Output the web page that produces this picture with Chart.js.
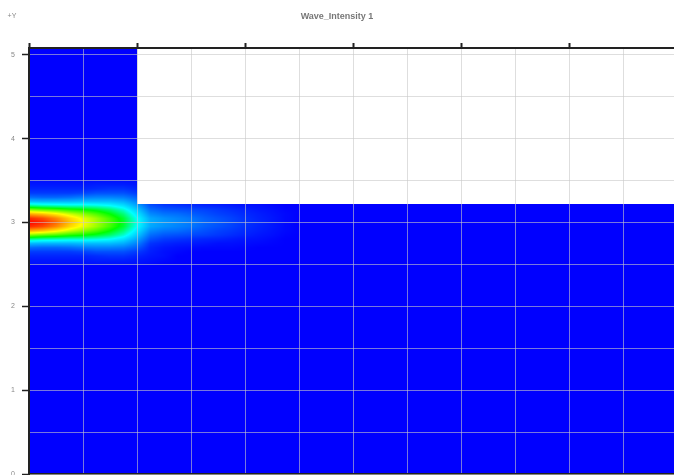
<!DOCTYPE html>
<html>
<head>
<meta charset="utf-8">
<title>Wave_Intensity 1</title>
<script src="https://cdn.jsdelivr.net/npm/chart.js@4.4.1/dist/chart.umd.min.js"></script>
<style>
  html, body { margin: 0; padding: 0; background: #fff; }
  canvas { display: block; }
</style>
</head>
<body>
<canvas id="wave-chart" width="674" height="475"></canvas>
<script>
// Axis ranges
var xRange = [0, 5.97];
var yRange = [0, 5.08];

// Upper outline of the simulation domain (filled down to y = 0)
var domainX = [0, 1, 1, 5.97];
var domainY = [5.08, 5.08, 3.22, 3.22];

// Intensity samples around the beam (columns = beamX, rows = beamY)
var beamX = [0, 0.125, 0.25, 0.375, 0.5, 0.625, 0.75, 0.875, 1, 1.125, 1.25,
  1.375, 1.5, 1.625, 1.75, 1.875, 2, 2.125, 2.25, 2.375, 2.5];
var beamY = [3.5, 3.45, 3.4, 3.35, 3.3, 3.25, 3.2, 3.15, 3.1, 3.05, 3,
  2.95, 2.9, 2.85, 2.8, 2.75, 2.7, 2.65, 2.6, 2.55, 2.5];
var intensity = [
  [.02, .02, .02, .02, .02, .02, .02, .02, .02, 0, 0, 0, 0, 0, 0, 0, 0, 0, 0, 0, 0],
  [.03, .03, .03, .03, .03, .04, .04, .04, .03, .01, 0, 0, 0, 0, 0, 0, 0, 0, 0, 0, 0],
  [.05, .05, .05, .05, .05, .06, .07, .07, .05, .02, 0, 0, 0, 0, 0, 0, 0, 0, 0, 0, 0],
  [.08, .08, .08, .08, .09, .11, .11, .11, .08, .03, .01, .01, 0, 0, 0, 0, 0, 0, 0, 0, 0],
  [.15, .14, .14, .15, .17, .18, .18, .17, .13, .04, .02, .02, .015, .01, .01, .01, .005, 0, 0, 0, 0],
  [.26, .25, .25, .25, .26, .26, .26, .24, .18, .07, .05, .04, .035, .03, .02, .02, .015, .01, .005, 0, 0],
  [.42, .40, .39, .38, .38, .37, .35, .31, .23, .11, .08, .07, .06, .05, .045, .035, .025, .02, .01, 0, 0],
  [.61, .58, .56, .53, .51, .48, .44, .38, .28, .15, .12, .11, .10, .09, .075, .06, .045, .03, .02, .005, 0],
  [.80, .77, .72, .66, .61, .56, .50, .43, .32, .19, .16, .15, .13, .11, .09, .075, .055, .04, .025, .01, 0],
  [.95, .91, .84, .75, .68, .62, .55, .47, .35, .23, .20, .18, .16, .13, .11, .09, .065, .045, .03, .01, 0],
  [1.0, .96, .88, .78, .70, .63, .56, .48, .36, .24, .21, .19, .17, .14, .12, .095, .07, .05, .03, .01, 0],
  [.95, .91, .84, .75, .68, .62, .55, .47, .35, .23, .20, .18, .16, .13, .11, .09, .065, .045, .03, .01, 0],
  [.80, .77, .72, .66, .61, .56, .50, .43, .32, .19, .16, .15, .13, .11, .09, .075, .055, .04, .025, .01, 0],
  [.61, .58, .56, .53, .51, .48, .44, .38, .28, .15, .12, .11, .10, .09, .075, .06, .045, .03, .02, .005, 0],
  [.42, .40, .39, .38, .38, .37, .35, .31, .23, .11, .08, .07, .06, .05, .045, .035, .025, .02, .01, 0, 0],
  [.26, .25, .25, .25, .26, .26, .26, .24, .18, .07, .05, .04, .035, .03, .02, .02, .015, .01, .005, 0, 0],
  [.15, .14, .14, .15, .17, .18, .18, .17, .13, .05, .03, .02, .015, .01, .01, .01, .005, 0, 0, 0, 0],
  [.08, .08, .08, .08, .09, .11, .11, .11, .08, .04, .02, .01, 0, 0, 0, 0, 0, 0, 0, 0, 0],
  [.05, .05, .05, .05, .05, .06, .07, .07, .05, .03, .02, 0, 0, 0, 0, 0, 0, 0, 0, 0, 0],
  [.03, .03, .03, .03, .03, .04, .04, .04, .03, .02, .01, 0, 0, 0, 0, 0, 0, 0, 0, 0, 0],
  [.02, .02, .02, .02, .02, .02, .02, .02, .02, .01, 0, 0, 0, 0, 0, 0, 0, 0, 0, 0, 0]
];

// Jet-like colour stops (value, r, g, b)
var colorStops = [
  [0, 0, 0, 255],
  [0.35, 0, 255, 255],
  [0.5, 0, 255, 0],
  [0.7, 255, 255, 0],
  [1, 255, 0, 0]
];

var FONT = '"Liberation Sans", Arial, sans-serif';
var GRID = "rgba(200, 200, 200, 0.6)";
var AXIS = "#222";

function jet(v) {
  v = Math.max(0, Math.min(1, v));
  for (var i = 1; i < colorStops.length; i++) {
    var a = colorStops[i - 1], b = colorStops[i];
    if (v <= b[0]) {
      var t = (v - a[0]) / (b[0] - a[0]);
      return [a[1] + (b[1] - a[1]) * t, a[2] + (b[2] - a[2]) * t, a[3] + (b[3] - a[3]) * t];
    }
  }
  return colorStops[colorStops.length - 1].slice(1);
}

// Fractional index of v inside a monotonic array (clamped)
function locate(arr, v) {
  var n = arr.length, asc = arr[n - 1] > arr[0];
  for (var i = 0; i < n - 1; i++) {
    var a = arr[i], b = arr[i + 1];
    if (asc ? v <= b : v >= b) {
      var t = (v - a) / (b - a);
      return i + Math.max(0, Math.min(1, t));
    }
  }
  return n - 1;
}

// Value of the intensity grid at a data position
function sampleAt(xv, yv) {
  var fx = locate(beamX, xv), fy = locate(beamY, yv);
  var i0 = Math.floor(fx), j0 = Math.floor(fy);
  var i1 = Math.min(i0 + 1, beamX.length - 1), j1 = Math.min(j0 + 1, beamY.length - 1);
  var tx = fx - i0, ty = fy - j0;
  var top = intensity[j0][i0] * (1 - tx) + intensity[j0][i1] * tx;
  var bot = intensity[j1][i0] * (1 - tx) + intensity[j1][i1] * tx;
  return top * (1 - ty) + bot * ty;
}

function isWhole(v) {
  return Math.abs(v - Math.round(v)) < 1e-6;
}

function tickMarkColor(ctx) {
  return ctx.tick && isWhole(ctx.tick.value) ? AXIS : "rgba(0,0,0,0)";
}

// Domain outline as a path through the scales
function domainPath(c, xs, ys) {
  c.beginPath();
  c.moveTo(xs.getPixelForValue(domainX[0]), ys.getPixelForValue(yRange[0]));
  for (var i = 0; i < domainX.length; i++) {
    c.lineTo(xs.getPixelForValue(domainX[i]), ys.getPixelForValue(domainY[i]));
  }
  c.lineTo(xs.getPixelForValue(domainX[domainX.length - 1]), ys.getPixelForValue(yRange[0]));
  c.closePath();
}

// Draws the intensity field, clipped to the domain
var heatmapPlugin = {
  id: "heatmap",
  afterDatasetsDraw: function (chart) {
    var xs = chart.scales.x, ys = chart.scales.y, c = chart.ctx;
    var left = Math.floor(xs.getPixelForValue(beamX[0]));
    var right = Math.ceil(xs.getPixelForValue(beamX[beamX.length - 1]));
    var top = Math.floor(ys.getPixelForValue(beamY[0]));
    var bottom = Math.ceil(ys.getPixelForValue(beamY[beamY.length - 1]));
    var w = right - left, h = bottom - top;

    var img = document.createElement("canvas");
    img.width = w;
    img.height = h;
    var ictx = img.getContext("2d");
    var pix = ictx.createImageData(w, h);
    for (var py = 0; py < h; py++) {
      var yv = ys.getValueForPixel(top + py + 0.5);
      for (var px = 0; px < w; px++) {
        var xv = xs.getValueForPixel(left + px + 0.5);
        var col = jet(sampleAt(xv, yv));
        var k = (py * w + px) * 4;
        pix.data[k] = col[0];
        pix.data[k + 1] = col[1];
        pix.data[k + 2] = col[2];
        pix.data[k + 3] = 255;
      }
    }
    ictx.putImageData(pix, 0, 0);

    c.save();
    domainPath(c, xs, ys);
    c.clip();
    c.drawImage(img, left, top);
    c.restore();
  },
  afterDraw: function (chart) {
    // "+Y" axis caption, top left
    var c = chart.ctx;
    c.save();
    c.font = "7px " + FONT;
    c.fillStyle = "#888";
    c.textAlign = "center";
    c.textBaseline = "middle";
    c.fillText("+Y", chart.scales.y.left + 12, 16);
    c.restore();
  }
};

var ctx = document.getElementById("wave-chart").getContext("2d");
new Chart(ctx, {
  type: "line",
  data: {
    datasets: [
      {
        label: "domain",
        data: domainX.map(function (x, i) { return { x: x, y: domainY[i] }; }),
        backgroundColor: "#0000ff",
        borderColor: "rgba(0,0,0,0)",
        borderWidth: 0,
        pointRadius: 0,
        tension: 0,
        fill: "origin"
      }
    ]
  },
  options: {
    responsive: false,
    animation: false,
    layout: { padding: 0 },
    plugins: {
      legend: { display: false },
      tooltip: { enabled: false },
      title: {
        display: true,
        text: "Wave_Intensity 1",
        color: "#777",
        font: { family: FONT, size: 9, weight: "bold", lineHeight: 1.2 },
        padding: { top: 11, bottom: 0 }
      }
    },
    scales: {
      x: {
        type: "linear",
        position: "top",
        min: xRange[0],
        max: xRange[1],
        ticks: { stepSize: 0.5, includeBounds: false, display: false },
        grid: { color: GRID, lineWidth: 1, tickLength: 5, tickWidth: 2, tickColor: tickMarkColor, z: 1 },
        border: { color: AXIS, width: 2, z: 1 },
        afterFit: function (s) {
          s.height = 48 - 21.8;
          s.paddingLeft = 0;
          s.paddingRight = 0;
        }
      },
      xb: {
        type: "linear",
        position: "bottom",
        min: xRange[0],
        max: xRange[1],
        ticks: { display: false },
        grid: { display: false },
        border: { color: AXIS, width: 2, z: 1 },
        afterFit: function (s) {
          s.height = 1;
          s.paddingLeft = 0;
          s.paddingRight = 0;
        }
      },
      y: {
        type: "linear",
        min: yRange[0],
        max: yRange[1],
        ticks: {
          stepSize: 0.5,
          includeBounds: false,
          color: "#888",
          padding: 7,
          font: { family: FONT, size: 7 },
          z: 1,
          callback: function (v) { return isWhole(v) ? String(Math.round(v)) : ""; }
        },
        grid: { color: GRID, lineWidth: 1, tickLength: 7, tickWidth: 1.5, tickColor: tickMarkColor, z: 1 },
        border: { color: AXIS, width: 2, z: 1 },
        afterFit: function (s) {
          s.width = 29;
          s.paddingTop = 0;
          s.paddingBottom = 0;
        }
      }
    }
  },
  plugins: [heatmapPlugin]
});
</script>
</body>
</html>
